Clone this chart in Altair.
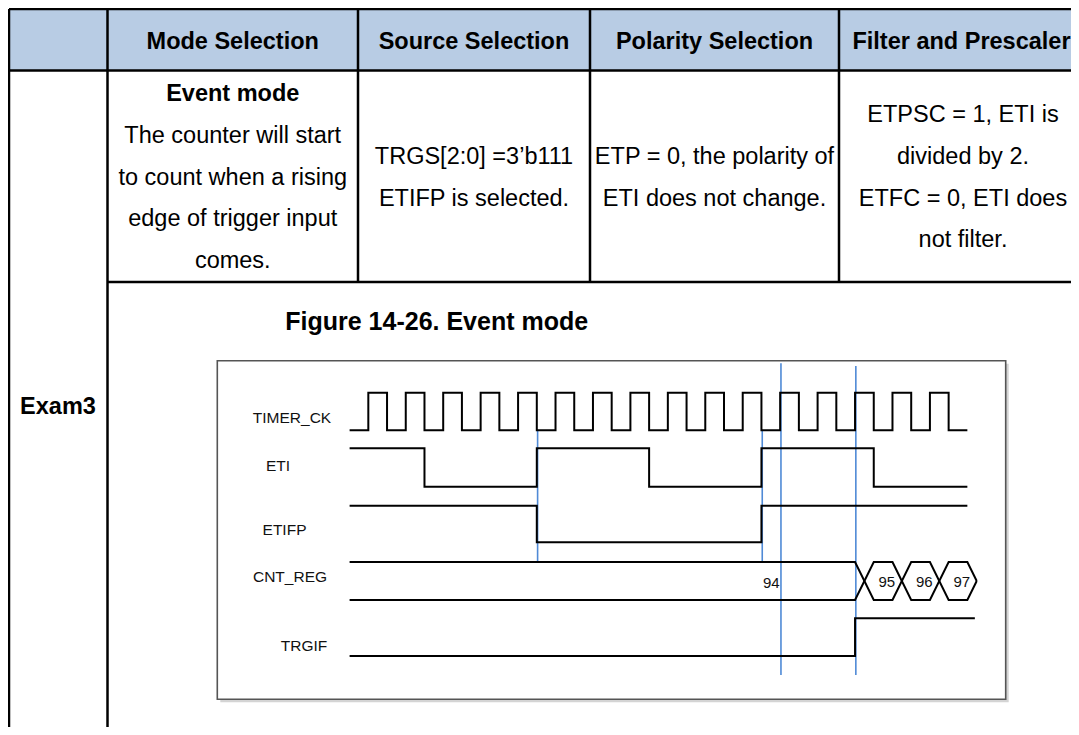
import altair as alt
import pandas as pd

# ---------------- data ----------------
header_labels = ["", "Mode Selection", "Source Selection", "Polarity Selection", "Filter and Prescaler"]
mode_lines = ["Event mode", "The counter will start", "to count when a rising",
              "edge of trigger input", "comes."]
source_lines = ["TRGS[2:0] =3\u2019b111", "ETIFP is selected."]
polarity_lines = ["ETP = 0, the polarity of", "ETI does not change."]
filter_lines = ["ETPSC = 1, ETI is", "divided by 2.", "ETFC = 0, ETI does", "not filter."]
row_label = "Exam3"
figure_title = "Figure 14-26. Event mode"

signal_names = ["TIMER_CK", "ETI", "ETIFP", "CNT_REG", "TRGIF"]
# times in half clock periods, levels 1 = high, 0 = low
ck_t = [0, 1, 2, 3, 4, 5, 6, 7, 8, 9, 10, 11, 12, 13, 14, 15, 16, 17, 18, 19, 20,
        21, 22, 23, 24, 25, 26, 27, 28, 29, 30, 31, 32, 33]
ck_level = [0, 1, 0, 1, 0, 1, 0, 1, 0, 1, 0, 1, 0, 1, 0, 1, 0, 1, 0, 1, 0,
            1, 0, 1, 0, 1, 0, 1, 0, 1, 0, 1, 0, 0]
eti_t = [0, 4, 10, 16, 22, 28, 33]
eti_level = [1, 0, 1, 0, 1, 0, 0]
etifp_t = [0, 10, 22, 33]
etifp_level = [1, 0, 1, 1]
trgif_t = [0, 27, 33.4]
trgif_level = [0, 1, 1]
cnt_values = ["94", "95", "96", "97"]
cnt_change_t = [27, 29, 31]
cnt_end_t = 33
cnt_first_label_t = 23
marker_t = [10, 22, 23, 27]

# ---------------- layout ----------------
W, H = 1063, 719
xs = alt.Scale(domain=[8, 8 + W], nice=False, zero=False)
ys = alt.Scale(domain=[8 + H, 8], nice=False, zero=False)
FONT = "Liberation Sans"

col_edges = [9, 107.5, 358, 590, 839, 1087]
row_edges = [8.9, 70.5, 282, 760]
HEADER_FILL = "#b8cce4"
TXT = 23.5
LINE_GAP = 41.7

X0, DT = 349.6, 18.72          # timing diagram origin and half-period width (px)
sig_hi = [392.7, 448.3, 505.7, 562.0, 618.3]
sig_lo = [430.3, 486.7, 542.3, 600.0, 656.0]
label_pos = [(292, 417.5), (278, 465), (284.5, 529), (290, 576.5), (304, 645)]
SIG_FONT = 15.5


def tx(t):
    return X0 + DT * t


def enc_xy(ch):
    return ch.encode(x=alt.X("x:Q", scale=xs, axis=None),
                     y=alt.Y("y:Q", scale=ys, axis=None))


def rule_layer(rows, color, width):
    df = pd.DataFrame(rows, columns=["x", "y", "x2", "y2"])
    return alt.Chart(df).mark_rule(color=color, strokeWidth=width).encode(
        x=alt.X("x:Q", scale=xs, axis=None), y=alt.Y("y:Q", scale=ys, axis=None),
        x2="x2:Q", y2="y2:Q")


def rect_layer(rows, fill, stroke=None, sw=0):
    df = pd.DataFrame(rows, columns=["x", "y", "x2", "y2"])
    kw = dict(fill=fill)
    if stroke:
        kw.update(stroke=stroke, strokeWidth=sw)
    return alt.Chart(df).mark_rect(**kw).encode(
        x=alt.X("x:Q", scale=xs, axis=None), y=alt.Y("y:Q", scale=ys, axis=None),
        x2="x2:Q", y2="y2:Q")


def text_layer(rows, size, weight="normal", align="center", color="#000000"):
    df = pd.DataFrame(rows, columns=["x", "yc", "text"])
    df["y"] = df["yc"] + 0.358 * size
    return enc_xy(alt.Chart(df).mark_text(font=FONT, fontSize=size, fontWeight=weight,
                                          align=align, baseline="alphabetic",
                                          color=color)).encode(text="text:N")


layers = []

# header background
layers.append(rect_layer([(col_edges[0], row_edges[0], col_edges[-1], row_edges[1])], HEADER_FILL))

# table grid
grid = [
    (col_edges[0], row_edges[0], col_edges[-1], row_edges[0]),
    (col_edges[0], row_edges[1], col_edges[-1], row_edges[1]),
    (col_edges[1], row_edges[2], col_edges[-1], row_edges[2]),
    (col_edges[0], row_edges[0], col_edges[0], row_edges[3]),
    (col_edges[1], row_edges[0], col_edges[1], row_edges[3]),
]
for c in col_edges[2:5]:
    grid.append((c, row_edges[0], c, row_edges[2]))
layers.append(rule_layer(grid, "#000000", 2.5))

# header texts
hdr_y = (row_edges[0] + row_edges[1]) / 2 + 1
hdr_rows = [((col_edges[i] + col_edges[i + 1]) / 2 - (1.5 if i == 4 else 0), hdr_y, header_labels[i])
            for i in range(len(header_labels)) if header_labels[i]]
layers.append(text_layer(hdr_rows, TXT, "bold"))

# body texts
row_c = (row_edges[1] + row_edges[2]) / 2
bold_rows, reg_rows = [], []
for ci, lines in zip([1, 2, 3, 4], [mode_lines, source_lines, polarity_lines, filter_lines]):
    cx = (col_edges[ci] + col_edges[ci + 1]) / 2
    n = len(lines)
    for i, s in enumerate(lines):
        yc = row_c + (i - (n - 1) / 2) * LINE_GAP
        if ci == 1 and i == 0:
            bold_rows.append((cx, yc, s))
        else:
            reg_rows.append((cx, yc, s))
bold_rows.append((58, 406, row_label))
layers.append(text_layer(bold_rows, TXT, "bold"))
layers.append(text_layer(reg_rows, TXT, "normal"))

# figure title
layers.append(text_layer([(436.7, 321, figure_title)], 25, "bold"))

# diagram frame with shadow
BOX = (217.3, 360.7, 1005.7, 699.3)
layers.append(rect_layer([(BOX[0] + 3, BOX[1] + 3, BOX[2] + 3, BOX[3] + 3)], "#d4d4d4"))
layers.append(rect_layer([BOX], "#ffffff", "#555555", 1.6))

# blue marker lines
blue = []
spans = {10: (431, 562), 22: (431, 562), 23: (363.3, 675), 27: (366, 675)}
for t in marker_t:
    y1, y2 = spans[t]
    blue.append((tx(t) + 0.8, y1, tx(t) + 0.8, y2))
layers.append(rule_layer(blue, "#4f8ad6", 1.6))

# step waveforms
wave = []
for si, (ts, lv) in zip([0, 1, 2, 4], [(ck_t, ck_level), (eti_t, eti_level),
                                       (etifp_t, etifp_level), (trgif_t, trgif_level)]):
    for i, (t, l) in enumerate(zip(ts, lv)):
        y = sig_lo[si] - l * (sig_lo[si] - sig_hi[si])
        wave.append({"sig": signal_names[si], "i": i, "x": tx(t), "y": y})
wdf = pd.DataFrame(wave)
layers.append(enc_xy(alt.Chart(wdf).mark_line(interpolate="step-after", color="#000000",
                                              strokeWidth=2, strokeJoin="miter"))
              .encode(detail="sig:N", order="i:Q"))

# CNT_REG bus (hexagon segments)
top, bot = sig_hi[3], sig_lo[3]
mid = (top + bot) / 2
pa = [(0, top)]
pb = [(0, bot)]
cur_a, cur_b = top, bot
for t in cnt_change_t:
    pa += [(t, cur_a), (t + 1, cur_b)]
    pb += [(t, cur_b), (t + 1, cur_a)]
    cur_a, cur_b = cur_b, cur_a
pa += [(cnt_end_t, cur_a), (cnt_end_t + 0.5, mid)]
pb += [(cnt_end_t, cur_b), (cnt_end_t + 0.5, mid)]
bus = []
for name, pts in [("a", pa), ("b", pb)]:
    for i, (t, y) in enumerate(pts):
        bus.append({"p": name, "i": i, "x": tx(t), "y": y})
layers.append(enc_xy(alt.Chart(pd.DataFrame(bus)).mark_line(color="#000000", strokeWidth=2,
                                                             strokeJoin="miter"))
              .encode(detail="p:N", order="i:Q"))

# bus value labels
bus_lab = [(tx(cnt_first_label_t) - 0.5, mid + 2, cnt_values[0])]
layers.append(text_layer(bus_lab, 15, "normal", align="right", color="#111111"))
hex_lab = []
for k, t in enumerate(cnt_change_t):
    hex_lab.append((tx(t + 1.7), mid + 1, cnt_values[k + 1]))
layers.append(text_layer(hex_lab, 15, "normal", color="#111111"))

# signal labels
sig_rows = [(label_pos[i][0], label_pos[i][1], signal_names[i]) for i in range(5)]
layers.append(text_layer(sig_rows, SIG_FONT, "normal", color="#111111"))

chart = alt.layer(*layers).properties(
    width=W, height=H, padding=0, autosize=alt.AutoSizeParams(type="none"),
    background="#ffffff"
).configure_view(stroke=None)

chart.save("out.html", embed_options={"renderer": "svg", "actions": False})
